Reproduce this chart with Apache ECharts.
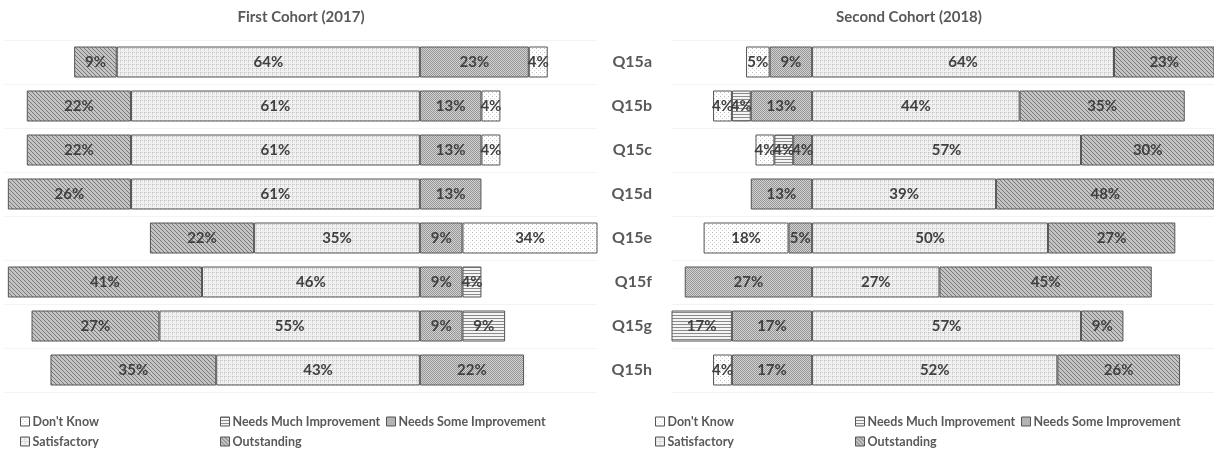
<!DOCTYPE html>
<html>
<head>
<meta charset="utf-8">
<script src="https://cdn.jsdelivr.net/npm/echarts@6/dist/echarts.min.js"></script>
<style>
html,body{margin:0;padding:0;background:#fff;}
#chart{width:1214px;height:453px;}
</style>
</head>
<body>
<div id="chart"></div>
<script>
const categories = ['Q15a','Q15b','Q15c','Q15d','Q15e','Q15f','Q15g','Q15h'];
const seriesNames = ["Don't Know",'Needs Much Improvement','Needs Some Improvement','Satisfactory','Outstanding'];

// First Cohort (2017)
const c1DontKnow      = [4, 4, 4, 0, 34, 0, 0, 0];
const c1NeedsMuch     = [0, 0, 0, 0, 0, 4, 9, 0];
const c1NeedsSome     = [23, 13, 13, 13, 9, 9, 9, 22];
const c1Satisfactory  = [64, 61, 61, 61, 35, 46, 55, 43];
const c1Outstanding   = [9, 22, 22, 26, 22, 41, 27, 35];

// Second Cohort (2018)
const c2DontKnow      = [5, 4, 4, 0, 18, 0, 0, 4];
const c2NeedsMuch     = [0, 4, 4, 0, 0, 0, 17, 0];
const c2NeedsSome     = [9, 13, 4, 13, 5, 27, 17, 17];
const c2Satisfactory  = [64, 44, 57, 39, 50, 27, 57, 52];
const c2Outstanding   = [23, 35, 30, 48, 27, 45, 9, 26];

const FONT = 'Lato, "Open Sans", sans-serif';
const TXT = '#595959';

function pattern(w, h, draw) {
  const c = document.createElement('canvas');
  c.width = w; c.height = h;
  const ctx = c.getContext('2d');
  draw(ctx);
  return { image: c, repeat: 'repeat' };
}
function px(ctx, x, y, col) { ctx.fillStyle = col; ctx.fillRect(x, y, 1, 1); }

const patterns = {
  "Don't Know": pattern(4, 4, ctx => {
    ctx.fillStyle = '#ffffff'; ctx.fillRect(0, 0, 4, 4);
    px(ctx, 0, 0, '#bdbdbd'); px(ctx, 2, 2, '#d6d6d6');
  }),
  'Needs Much Improvement': pattern(4, 3, ctx => {
    ctx.fillStyle = '#f4f4f4'; ctx.fillRect(0, 0, 4, 3);
    ctx.fillStyle = '#8a8a8a'; ctx.fillRect(0, 0, 4, 1);
  }),
  'Needs Some Improvement': pattern(4, 4, ctx => {
    for (let y = 0; y < 4; y++) for (let x = 0; x < 4; x++)
      px(ctx, x, y, ((x + y) % 2 === 0) ? '#969696' : '#d2d2d2');
  }),
  'Satisfactory': pattern(4, 4, ctx => {
    ctx.fillStyle = '#f1f1f1'; ctx.fillRect(0, 0, 4, 4);
    px(ctx, 0, 0, '#c4c4c4'); px(ctx, 2, 0, '#d0d0d0'); px(ctx, 0, 2, '#d0d0d0');
    px(ctx, 1, 0, '#dedede'); px(ctx, 0, 1, '#dedede');
  }),
  'Outstanding': pattern(4, 4, ctx => {
    ctx.fillStyle = '#c4c4c4'; ctx.fillRect(0, 0, 4, 4);
    for (let i = 0; i < 4; i++) px(ctx, i, i, '#787878');
  })
};

function mkSeries(name, arr, sign, idx) {
  return {
    name: name,
    type: 'bar',
    stack: 'cohort' + idx,
    xAxisIndex: idx,
    yAxisIndex: idx,
    barWidth: 31,
    clip: true,
    data: arr.map(v => v ? sign * v : null),
    itemStyle: {
      color: patterns[name],
      borderColor: '#555555',
      borderWidth: 1
    },
    label: {
      show: true,
      position: 'inside',
      formatter: p => Math.abs(p.value) + '%',
      color: '#404040',
      fontWeight: 'bold',
      fontSize: 15,
      fontFamily: FONT,
      textBorderWidth: 0
    },
    emphasis: { disabled: true }
  };
}

const series = [
  mkSeries('Needs Some Improvement', c1NeedsSome, -1, 0),
  mkSeries('Needs Much Improvement', c1NeedsMuch, -1, 0),
  mkSeries("Don't Know", c1DontKnow, -1, 0),
  mkSeries('Satisfactory', c1Satisfactory, 1, 0),
  mkSeries('Outstanding', c1Outstanding, 1, 0),
  mkSeries('Needs Some Improvement', c2NeedsSome, -1, 1),
  mkSeries('Needs Much Improvement', c2NeedsMuch, -1, 1),
  mkSeries("Don't Know", c2DontKnow, -1, 1),
  mkSeries('Satisfactory', c2Satisfactory, 1, 1),
  mkSeries('Outstanding', c2Outstanding, 1, 1)
];

function legendItem(name, left, top) {
  return {
    data: [name],
    left: left, top: top,
    padding: 0,
    orient: 'horizontal',
    selectedMode: false,
    itemWidth: 9, itemHeight: 9,
    itemGap: 4,
    icon: 'rect',
    itemStyle: { borderColor: '#555555', borderWidth: 1 },
    textStyle: { color: TXT, fontFamily: FONT, fontWeight: 'bold', fontSize: 12.5, padding: [0, 0, 0, -2] }
  };
}

const legendPos = [[20, 220, 386, 20, 220], [655, 855, 1021, 655, 855]];
const legendNames = ["Don't Know", 'Needs Much Improvement', 'Needs Some Improvement', 'Satisfactory', 'Outstanding'];
const legends = [];
legendPos.forEach(row => {
  legendNames.forEach((n, i) => {
    const top = (i < 3) ? 415 : 435;
    legends.push(legendItem(n, row[i], top));
  });
});

const option = {
  animation: false,
  backgroundColor: '#ffffff',
  title: [
    { text: 'First Cohort (2017)', left: 296, top: 5, textAlign: 'center',
      textStyle: { color: TXT, fontFamily: FONT, fontWeight: 'bold', fontSize: 15 } },
    { text: 'Second Cohort (2018)', left: 904, top: 5, textAlign: 'center',
      textStyle: { color: TXT, fontFamily: FONT, fontWeight: 'bold', fontSize: 15 } }
  ],
  legend: legends,
  grid: [
    { left: 5, right: 617, top: 40, bottom: 61 },
    { left: 672, right: 0, top: 40, bottom: 61 }
  ],
  xAxis: [
    { type: 'value', gridIndex: 0, min: -37.4, max: 87.6, inverse: true,
      axisLabel: { show: false }, axisLine: { show: false }, axisTick: { show: false }, splitLine: { show: false } },
    { type: 'value', gridIndex: 1, min: -29.7, max: 85.2,
      axisLabel: { show: false }, axisLine: { show: false }, axisTick: { show: false }, splitLine: { show: false } }
  ],
  yAxis: [
    { type: 'category', gridIndex: 0, data: categories, inverse: true,
      axisLabel: { show: false }, axisLine: { show: false }, axisTick: { show: false },
      splitLine: { show: true, lineStyle: { color: '#f3f3f3', width: 1 } } },
    { type: 'category', gridIndex: 1, data: categories, inverse: true,
      axisLabel: { show: true, margin: 20, color: TXT, fontFamily: FONT, fontWeight: 'bold', fontSize: 16 },
      axisLine: { show: false }, axisTick: { show: false },
      splitLine: { show: true, lineStyle: { color: '#f3f3f3', width: 1 } } }
  ],
  series: series
};

const chart = echarts.init(document.getElementById('chart'), null, { renderer: 'canvas' });
chart.setOption(option);
</script>
</body>
</html>
